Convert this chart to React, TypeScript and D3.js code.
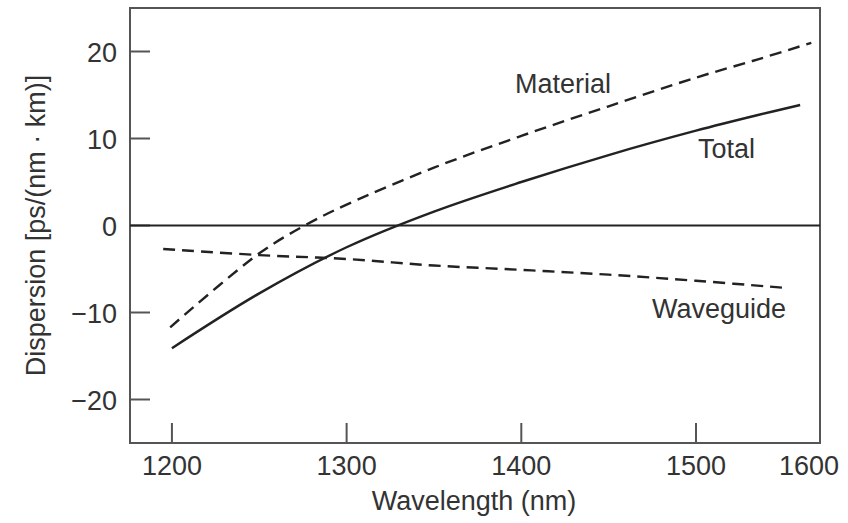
import React from "react";
import * as d3 from "d3";

// wavelengths (nm) and dispersion values (ps/(nm·km))
const totalWl = [1200, 1250, 1300, 1350, 1400, 1450, 1500, 1550, 1584];
const totalD = [-14.1, -7.8, -2.5, 1.6, 5.0, 8.1, 10.9, 12.7, 13.85];

const materialWl = [1199, 1250, 1276, 1300, 1350, 1400, 1450, 1500, 1550, 1593];
const materialD = [-11.7, -3.2, 0, 2.4, 6.65, 10.3, 13.7, 17.0, 19.1, 21.0];

const waveguideWl = [1195, 1250, 1300, 1350, 1400, 1450, 1500, 1574];
const waveguideD = [-2.7, -3.4, -3.85, -4.6, -5.1, -5.65, -6.35, -7.2];

const xTicks = [1200, 1300, 1400, 1500];
const xTickLabels = ["1200", "1300", "1400", "1500", "1600"];
const yTicks = [20, 10, 0, -10, -20];

const width = 848;
const height = 523;
const left = 130;
const right = 820;
const top = 8;
const bottom = 443;
const ink = "#222";
const textColor = "#333";
const font = "'Liberation Sans', Arial, Helvetica, sans-serif";

const App = () => {
  // the drawing's last interval (1500-1600) is squeezed, so the scale is piecewise
  const x = d3.scaleLinear().domain([1176, 1500, 1600]).range([left, 696, right]);
  const y = d3.scaleLinear().domain([-25, 25]).range([bottom, top]);

  const line = d3
    .line<[number, number]>()
    .x((d) => x(d[0]))
    .y((d) => y(d[1]))
    .curve(d3.curveCatmullRom.alpha(0.5));

  const series = [
    { wl: materialWl, d: materialD, dash: "12,7" },
    { wl: waveguideWl, d: waveguideD, dash: "12,7" },
    { wl: totalWl, d: totalD, dash: null },
  ];

  return (
    <svg
      width={width}
      height={height}
      style={{ position: "absolute", left: 0, top: 0, background: "#fff" }}
      fontFamily={font}
    >
      <rect x={left} y={top} width={right - left} height={bottom - top} fill="none" stroke="#555" strokeWidth={2} />

      {/* y ticks */}
      {yTicks.map((t) => (
        <g key={"y" + t}>
          <line x1={left} x2={left + 20} y1={y(t)} y2={y(t)} stroke="#555" strokeWidth={2} />
          <text x={117} y={y(t) + 10} textAnchor="end" fontSize={27} fill={textColor}>
            {t < 0 ? "\u2212" + Math.abs(t) : t}
          </text>
        </g>
      ))}

      {/* x ticks */}
      {xTicks.map((t) => (
        <line key={"x" + t} x1={x(t)} x2={x(t)} y1={bottom} y2={bottom - 20} stroke="#555" strokeWidth={2} />
      ))}
      {xTickLabels.map((lab, i) => {
        const last = i === xTickLabels.length - 1;
        return (
          <text
            key={"xl" + lab}
            x={last ? x(+lab) + 19 : x(+lab)}
            y={475}
            textAnchor={last ? "end" : "middle"}
            fontSize={27}
            fill={textColor}
          >
            {lab}
          </text>
        );
      })}

      {/* zero line */}
      <line x1={left} x2={right} y1={y(0)} y2={y(0)} stroke={ink} strokeWidth={1.8} />

      {series.map((s, i) => (
        <path
          key={i}
          d={line(s.wl.map((w, j) => [w, s.d[j]] as [number, number])) || ""}
          fill="none"
          stroke={ink}
          strokeWidth={2.4}
          strokeDasharray={s.dash || undefined}
        />
      ))}

      <text x={515} y={93} fontSize={27} fill={textColor}>Material</text>
      <text x={698} y={158} fontSize={27} fill={textColor}>Total</text>
      <text x={786} y={318} fontSize={27} fill={textColor} textAnchor="end">Waveguide</text>

      <text x={(left + right) / 2} y={510} fontSize={27} fill={textColor} textAnchor="middle" dx={-1}>
        Wavelength (nm)
      </text>
      <text
        transform={`translate(45, ${(top + bottom) / 2}) rotate(-90)`}
        fontSize={27}
        fill={textColor}
        textAnchor="middle"
      >
        Dispersion [ps/(nm · km)]
      </text>
    </svg>
  );
};

export default App;
